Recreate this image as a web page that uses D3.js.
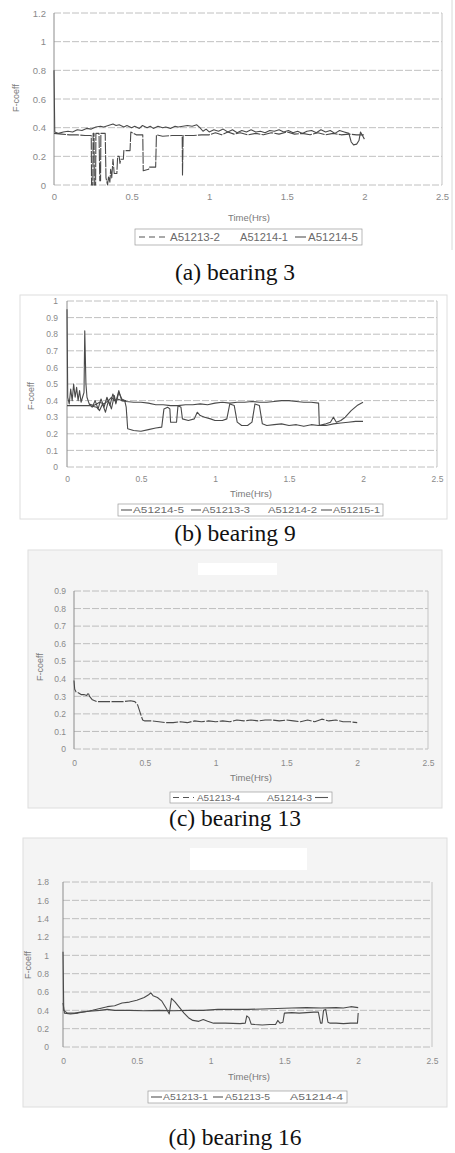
<!DOCTYPE html>
<html>
<head>
<meta charset="utf-8">
<script src="https://cdn.jsdelivr.net/npm/d3@7"></script>
<style>
  body { margin: 0; background: #fff; }
  .tick text { fill: #8a8a8a; font-family: "Liberation Sans", Arial, sans-serif; }
  .caption { font-family: "Liberation Serif", "Times New Roman", serif; fill: #111; }
  .atitle { fill: #7a7a7a; font-family: "Liberation Sans", Arial, sans-serif; }
  .legtext { fill: #6a6a6a; font-family: "Liberation Sans", Arial, sans-serif; }
</style>
</head>
<body>
<div id="fig"></div>
<script>
// tick labels
var xTicks = [0, 0.5, 1, 1.5, 2, 2.5];
var yTicks3 = [0, 0.2, 0.4, 0.6, 0.8, 1, 1.2];
var yTicks9 = [0, 0.1, 0.2, 0.3, 0.4, 0.5, 0.6, 0.7, 0.8, 0.9, 1];
var yTicks13 = [0, 0.1, 0.2, 0.3, 0.4, 0.5, 0.6, 0.7, 0.8, 0.9];
var yTicks16 = [0, 0.2, 0.4, 0.6, 0.8, 1, 1.2, 1.4, 1.6, 1.8];

// bearing 3  [time (hrs), f-coeff]
var b3_A51213_2 = [[0,0.36],[0.05,0.355],[0.1,0.35],[0.15,0.35],[0.2,0.345],[0.24,0.345],[0.242,0],[0.25,0],[0.252,0.36],
  [0.258,0.36],[0.26,0],[0.268,0],[0.27,0.36],[0.29,0.36],[0.295,0.03],[0.3,0.03],[0.302,0.36],[0.33,0.36],[0.335,0.05],
  [0.345,0],[0.352,0.06],[0.36,0.02],[0.365,0.11],[0.372,0.05],[0.38,0.18],[0.388,0.08],[0.405,0.08],[0.41,0.2],[0.42,0.2],
  [0.425,0.15],[0.43,0.18],[0.447,0.18],[0.45,0.24],[0.49,0.24],[0.495,0.37],[0.53,0.35],[0.572,0.35],[0.575,0.1],[0.61,0.11],
  [0.615,0.125],[0.655,0.125],[0.66,0.35],[0.7,0.34],[0.76,0.345],[0.826,0.345],[0.828,0.07],[0.832,0.345],[0.9,0.345],
  [0.95,0.35],[1.0,0.35],[1.04,0.365],[1.08,0.35],[1.12,0.37],[1.16,0.355],[1.2,0.365],[1.25,0.35],[1.3,0.36],[1.35,0.35],
  [1.4,0.365],[1.45,0.355],[1.5,0.37],[1.55,0.355],[1.6,0.36],[1.65,0.35],[1.7,0.365],[1.75,0.35],[1.8,0.36],[1.85,0.35],
  [1.9,0.355],[1.95,0.35],[2.0,0.35]];
var b3_A51214_5 = [[0,0.8],[0.005,0.37],[0.03,0.36],[0.06,0.37],[0.09,0.375],[0.12,0.37],[0.15,0.385],[0.18,0.38],[0.21,0.395],
  [0.24,0.39],[0.27,0.405],[0.3,0.41],[0.32,0.405],[0.35,0.415],[0.38,0.425],[0.4,0.415],[0.42,0.42],[0.45,0.405],[0.47,0.415],
  [0.5,0.4],[0.52,0.41],[0.55,0.395],[0.57,0.415],[0.6,0.4],[0.62,0.41],[0.64,0.395],[0.67,0.41],[0.7,0.4],[0.72,0.405],
  [0.75,0.395],[0.78,0.41],[0.8,0.405],[0.83,0.41],[0.86,0.415],[0.89,0.41],[0.92,0.42],[0.94,0.4],[0.96,0.375],[0.98,0.39],
  [1.0,0.37],[1.03,0.385],[1.06,0.375],[1.09,0.39],[1.12,0.37],[1.15,0.385],[1.18,0.365],[1.21,0.38],[1.24,0.37],[1.27,0.385],
  [1.3,0.37],[1.33,0.375],[1.36,0.365],[1.39,0.38],[1.42,0.375],[1.45,0.385],[1.48,0.37],[1.51,0.38],[1.54,0.365],[1.57,0.375],
  [1.6,0.36],[1.63,0.375],[1.66,0.38],[1.69,0.365],[1.72,0.385],[1.75,0.37],[1.78,0.38],[1.81,0.36],[1.84,0.38],[1.87,0.37],
  [1.9,0.36],[1.915,0.3],[1.93,0.28],[1.95,0.285],[1.965,0.31],[1.975,0.37],[1.99,0.34],[2.0,0.32]];

// bearing 9
var b9_A51214_5 = [[0,0.95],[0.005,0.42],[0.015,0.38],[0.025,0.47],[0.035,0.4],[0.045,0.5],[0.055,0.42],[0.065,0.48],[0.075,0.4],
  [0.085,0.46],[0.095,0.39],[0.105,0.42],[0.115,0.45],[0.12,0.82],[0.128,0.5],[0.135,0.42],[0.15,0.38],[0.18,0.37],[0.2,0.38],
  [0.22,0.39],[0.25,0.38],[0.28,0.4],[0.3,0.42],[0.32,0.4],[0.34,0.41],[0.37,0.4],[0.4,0.395],[0.45,0.39],[0.5,0.39],[0.55,0.385],
  [0.6,0.375],[0.65,0.375],[0.7,0.37],[0.75,0.37],[0.8,0.375],[0.85,0.375],[0.9,0.38],[0.95,0.375],[1.0,0.385],[1.05,0.39],
  [1.1,0.385],[1.15,0.39],[1.2,0.39],[1.25,0.395],[1.3,0.39],[1.35,0.39],[1.4,0.395],[1.45,0.4],[1.5,0.4],[1.55,0.395],[1.6,0.39],
  [1.65,0.39],[1.7,0.385],[1.705,0.25],[1.75,0.25],[1.8,0.26],[1.85,0.265],[1.9,0.27],[1.95,0.275],[2.0,0.275]];
var b9_A51213_3 = [[0,0.37],[0.05,0.37],[0.1,0.37],[0.15,0.37],[0.2,0.36],[0.22,0.34],[0.24,0.38],[0.26,0.33],[0.28,0.4],[0.3,0.35],
  [0.32,0.43],[0.33,0.38],[0.35,0.45],[0.37,0.41],[0.39,0.4],[0.4,0.36],[0.41,0.23],[0.45,0.22],[0.5,0.215],[0.55,0.225],[0.6,0.235],
  [0.64,0.24],[0.655,0.35],[0.68,0.36],[0.695,0.35],[0.7,0.27],[0.74,0.27],[0.75,0.37],[0.77,0.36],[0.78,0.29],[0.82,0.28],
  [0.86,0.29],[0.88,0.33],[0.9,0.31],[0.93,0.3],[0.97,0.29],[1.0,0.28],[1.05,0.28],[1.08,0.29],[1.1,0.38],[1.13,0.37],[1.15,0.27],
  [1.18,0.25],[1.22,0.25],[1.25,0.27],[1.27,0.38],[1.3,0.37],[1.32,0.26],[1.35,0.25],[1.4,0.255],[1.45,0.26],[1.5,0.25],[1.55,0.255],
  [1.6,0.245],[1.65,0.255],[1.7,0.25],[1.75,0.26],[1.78,0.27],[1.8,0.3],[1.82,0.27],[1.85,0.28],[1.88,0.3],[1.92,0.34],[1.96,0.37],
  [2.0,0.39]];
var b9_A51215_1 = [[0.15,0.38],[0.17,0.36],[0.19,0.4],[0.21,0.35],[0.23,0.41],[0.25,0.36],[0.27,0.42],[0.29,0.37],[0.31,0.44],
  [0.33,0.39],[0.35,0.46],[0.37,0.4],[0.4,0.4]];

// bearing 13
var b13_A51213_4 = [[0,0.39],[0.005,0.34],[0.015,0.325],[0.03,0.32],[0.05,0.31],[0.07,0.31],[0.09,0.305],[0.1,0.32],[0.11,0.3],
  [0.13,0.28],[0.16,0.27],[0.2,0.27],[0.25,0.27],[0.3,0.27],[0.35,0.27],[0.4,0.275],[0.43,0.27],[0.45,0.25],[0.47,0.2],[0.485,0.165],
  [0.5,0.16],[0.55,0.16],[0.6,0.155],[0.65,0.15],[0.7,0.15],[0.75,0.155],[0.8,0.15],[0.85,0.16],[0.9,0.155],[0.95,0.16],[1.0,0.155],
  [1.05,0.16],[1.1,0.155],[1.15,0.165],[1.2,0.16],[1.25,0.165],[1.3,0.16],[1.35,0.165],[1.4,0.165],[1.45,0.16],[1.5,0.165],
  [1.55,0.16],[1.6,0.155],[1.65,0.165],[1.7,0.155],[1.75,0.17],[1.8,0.16],[1.85,0.165],[1.9,0.155],[1.95,0.155],[2.0,0.15]];

// bearing 16
var b16_A51213_1 = [[0,1.04],[0.005,0.4],[0.03,0.37],[0.08,0.37],[0.12,0.38],[0.18,0.39],[0.25,0.4],[0.3,0.41],[0.35,0.4],[0.45,0.4],
  [0.55,0.395],[0.65,0.4],[0.75,0.395],[0.85,0.4],[0.95,0.4],[1.05,0.41],[1.15,0.41],[1.25,0.41],[1.35,0.415],[1.45,0.42],
  [1.55,0.425],[1.65,0.43],[1.75,0.425],[1.85,0.43],[1.9,0.425],[1.95,0.44],[2.0,0.43]];
var b16_A51213_5 = [[0,0.48],[0.01,0.37],[0.05,0.36],[0.1,0.37],[0.15,0.385],[0.2,0.4],[0.25,0.42],[0.3,0.44],[0.35,0.45],[0.4,0.48],
  [0.45,0.49],[0.5,0.51],[0.55,0.54],[0.58,0.57],[0.595,0.59],[0.61,0.56],[0.64,0.54],[0.67,0.5],[0.7,0.42],[0.72,0.36],[0.735,0.53],
  [0.76,0.49],[0.79,0.43],[0.82,0.37],[0.85,0.32],[0.88,0.29],[0.92,0.28],[0.95,0.3],[0.98,0.28],[1.02,0.26],[1.1,0.26],[1.2,0.255],
  [1.235,0.26],[1.245,0.34],[1.26,0.32],[1.275,0.25],[1.3,0.245],[1.35,0.24],[1.4,0.245],[1.44,0.245],[1.455,0.29],[1.47,0.26],
  [1.49,0.27],[1.5,0.37],[1.55,0.375],[1.6,0.37],[1.65,0.375],[1.7,0.38],[1.73,0.38],[1.745,0.26],[1.755,0.26],[1.765,0.4],
  [1.78,0.41],[1.795,0.27],[1.81,0.26],[1.85,0.26],[1.9,0.255],[1.95,0.26],[1.995,0.26],[2.0,0.37]];

var panels = [
  { box: {l: 54, r: 442, t: 13, b: 185}, yMax: 1.2, yTicks: yTicks3, tickFont: 9.5, yPad: 8, xPad: 8,
    yTitle: [16, 98], xTitle: [249, 221], caption: ["(a) bearing 3", 280],
    series: [{d: b3_A51213_2, dash: "12,1.2"}, {d: b3_A51214_5}],
    frame: null, rightLine: [452, 0, 250],
    legend: {box: [135, 229, 227, 16], items: [
      {name: "A51213-2", line: [139, 166], dash: "6,4", tx: 170, w: 50},
      {name: "A51214-1", tx: 240, w: 48},
      {name: "A51214-5", line: [295, 306], tx: 308, w: 50}]} },
  { box: {l: 67, r: 437, t: 301, b: 467}, yMax: 1, yTicks: yTicks9, tickFont: 8.5, yPad: 9, xPad: 9,
    yTitle: [31, 396], xTitle: [251, 497], caption: ["(b) bearing 9", 541],
    series: [{d: b9_A51214_5}, {d: b9_A51213_3}, {d: b9_A51215_1}],
    frame: {r: [20, 295, 427, 224], fill: "none"},
    legend: {box: [118, 504, 265, 12], items: [
      {name: "A51214-5", line: [121, 132], tx: 133, w: 51},
      {name: "A51213-3", line: [191, 201], tx: 202, w: 48},
      {name: "A51214-2", tx: 268, w: 49},
      {name: "A51215-1", line: [321, 332], tx: 333, w: 47}]} },
  { box: {l: 74, r: 428, t: 591, b: 749}, yMax: 0.9, yTicks: yTicks13, tickFont: 8.5, yPad: 8, xPad: 11,
    yTitle: [40, 667], xTitle: [251, 781], caption: ["(c) bearing 13", 826],
    series: [{d: b13_A51213_4, dash: "12,1.5"}],
    frame: {r: [28, 550, 414, 258], fill: "#f4f4f4", title: [198, 563, 79, 12]},
    legend: {box: [170, 792, 162, 11], items: [
      {name: "A51213-4", line: [173, 194], dash: "6,4", tx: 197, w: 43},
      {name: "A51214-3", tx: 267, w: 45},
      {name: "", line: [315, 328]}]} },
  { box: {l: 63, r: 432, t: 882, b: 1047}, yMax: 1.8, yTicks: yTicks16, tickFont: 8.5, yPad: 14, xPad: 11,
    yTitle: [28, 965], xTitle: [249, 1080], caption: ["(d) bearing 16", 1145],
    series: [{d: b16_A51213_1}, {d: b16_A51213_5}],
    frame: {r: [23, 838, 424, 269], fill: "#f4f4f4", title: [190, 848, 117, 22]},
    legend: {box: [148, 1091, 199, 12], items: [
      {name: "A51213-1", line: [151, 162], tx: 163, w: 45},
      {name: "A51213-5", line: [213, 223], tx: 225, w: 45},
      {name: "A51214-4", tx: 290, w: 53}]} }
];

var svg = d3.select("#fig").append("svg")
  .attr("width", 455)
  .attr("height", 1153);

svg.append("rect").attr("width", 455).attr("height", 1153).attr("fill", "#fff");

panels.forEach(function(p) {
  var g = svg.append("g");

  if (p.frame) {
    g.append("rect")
      .attr("x", p.frame.r[0]).attr("y", p.frame.r[1])
      .attr("width", p.frame.r[2]).attr("height", p.frame.r[3])
      .attr("fill", p.frame.fill).attr("stroke", "#dedede").attr("stroke-width", 1);
    if (p.frame.title) {
      g.append("rect")
        .attr("x", p.frame.title[0]).attr("y", p.frame.title[1])
        .attr("width", p.frame.title[2]).attr("height", p.frame.title[3])
        .attr("fill", "#fff");
    }
  }
  if (p.rightLine) {
    g.append("line")
      .attr("x1", p.rightLine[0]).attr("x2", p.rightLine[0])
      .attr("y1", p.rightLine[1]).attr("y2", p.rightLine[2])
      .attr("stroke", "#d8d8d8");
  }

  var x = d3.scaleLinear().domain([0, 2.5]).range([p.box.l, p.box.r]);
  var y = d3.scaleLinear().domain([0, p.yMax]).range([p.box.b, p.box.t]);

  // grid
  g.selectAll(".grid")
    .data(p.yTicks)
    .enter()
    .append("line")
    .attr("x1", p.box.l).attr("x2", p.box.r)
    .attr("y1", d => y(d)).attr("y2", d => y(d))
    .attr("stroke", "#b0b0b0")
    .attr("stroke-width", 0.8)
    .attr("stroke-dasharray", "7,2");

  // plot frame
  g.append("line")
    .attr("x1", p.box.r).attr("x2", p.box.r)
    .attr("y1", p.box.t).attr("y2", p.box.b)
    .attr("stroke", "#c4c4c4");
  g.append("line")
    .attr("x1", p.box.l).attr("x2", p.box.l)
    .attr("y1", p.box.t).attr("y2", p.box.b)
    .attr("stroke", "#8c8c8c");

  var leftAxis = d3.axisLeft(y)
    .tickValues(p.yTicks)
    .tickSize(0)
    .tickPadding(p.yPad)
    .tickFormat(d => String(d));
  var bottomAxis = d3.axisBottom(x)
    .tickValues(xTicks)
    .tickSize(0)
    .tickPadding(p.xPad)
    .tickFormat(d => String(d));

  var ya = g.append("g")
    .attr("transform", `translate(${p.box.l}, 0)`)
    .call(leftAxis);
  ya.select(".domain").remove();
  ya.selectAll("text").style("font-size", p.tickFont + "px");

  var xa = g.append("g")
    .attr("transform", `translate(0, ${p.box.b})`)
    .call(bottomAxis);
  xa.select(".domain").remove();
  xa.selectAll("text").style("font-size", p.tickFont + "px");

  // axis titles
  g.append("text")
    .attr("class", "atitle")
    .attr("transform", `translate(${p.yTitle[0]}, ${p.yTitle[1]}) rotate(-90)`)
    .attr("text-anchor", "middle")
    .attr("dy", "0.35em")
    .style("font-size", "9px")
    .text("F-coeff");
  g.append("text")
    .attr("class", "atitle")
    .attr("x", p.xTitle[0]).attr("y", p.xTitle[1])
    .attr("text-anchor", "middle")
    .style("font-size", "9.5px")
    .text("Time(Hrs)");

  // lines
  var line = d3.line()
    .x(d => x(d[0]))
    .y(d => y(d[1]));

  p.series.forEach(function(s) {
    g.append("path")
      .datum(s.d)
      .attr("d", line)
      .attr("fill", "none")
      .attr("stroke", "#4a4a4a")
      .attr("stroke-width", 1.1)
      .attr("stroke-linejoin", "round")
      .attr("stroke-dasharray", s.dash || null);
  });

  // legend
  var lb = p.legend.box;
  var lg = g.append("g");
  lg.append("rect")
    .attr("x", lb[0]).attr("y", lb[1])
    .attr("width", lb[2]).attr("height", lb[3])
    .attr("fill", "#fff")
    .attr("stroke", "#9a9a9a")
    .attr("stroke-width", 0.7);
  var cy = lb[1] + lb[3] / 2;
  p.legend.items.forEach(function(it) {
    if (it.line) {
      lg.append("line")
        .attr("x1", it.line[0]).attr("x2", it.line[1])
        .attr("y1", cy).attr("y2", cy)
        .attr("stroke", "#555")
        .attr("stroke-width", 1.1)
        .attr("stroke-dasharray", it.dash || null);
    }
    if (it.name) {
      lg.append("text")
        .attr("class", "legtext")
        .attr("x", it.tx).attr("y", cy)
        .attr("dy", "0.35em")
        .attr("textLength", it.w)
        .attr("lengthAdjust", "spacingAndGlyphs")
        .style("font-size", (lb[3] > 14 ? 10.5 : 9) + "px")
        .text(it.name);
    }
  });

  // caption
  svg.append("text")
    .attr("class", "caption")
    .attr("x", 235).attr("y", p.caption[1])
    .attr("text-anchor", "middle")
    .style("font-size", "23.5px")
    .text(p.caption[0]);
});
</script>
</body>
</html>
